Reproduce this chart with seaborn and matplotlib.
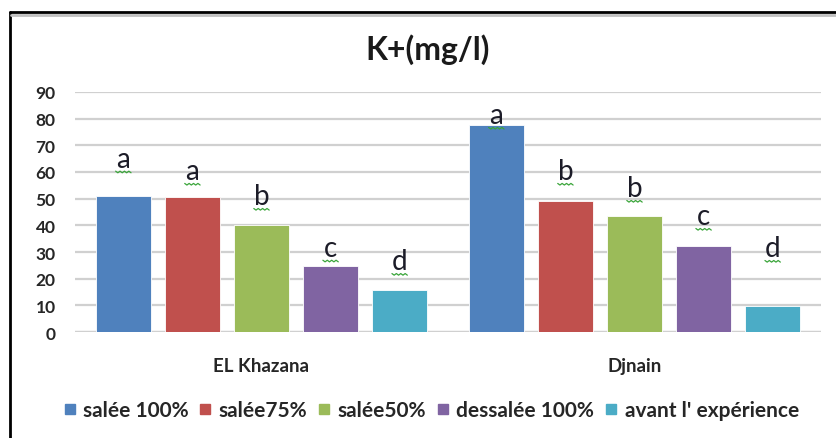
import matplotlib
matplotlib.use("Agg")
import matplotlib.pyplot as plt
from matplotlib.lines import Line2D
import numpy as np
import pandas as pd
import seaborn as sns

# Potassium concentration (mg/l) per site and irrigation water treatment
sites = ["EL Khazana", "Djnain"]
treatments = ["salée 100%", "salée75%", "salée50%", "dessalée 100%", "avant l' expérience"]
values_el_khazana = [51.0, 50.5, 40.2, 24.8, 15.8]
values_djnain = [77.5, 49.0, 43.6, 32.4, 9.7]

# Significance groups and the height at which each letter sits
letters_el_khazana = ["a", "a", "b", "c", "d"]
letters_djnain = ["a", "b", "b", "c", "d"]
letter_y_el_khazana = [62.0, 57.4, 48.0, 28.6, 23.6]
letter_y_djnain = [78.4, 57.4, 51.0, 40.5, 28.5]

colors = ["#4F81BD", "#C0504D", "#9BBB59", "#8064A2", "#4BACC6"]

rows = []
for site, vals in zip(sites, [values_el_khazana, values_djnain]):
    for t, v in zip(treatments, vals):
        rows.append({"site": site, "treatment": t, "K": v})
df = pd.DataFrame(rows)

sns.set_theme(style="white")
plt.rcParams["font.family"] = ["Lato", "DejaVu Sans"]

fig = plt.figure(figsize=(8.37, 4.39), dpi=100)
ax = fig.add_axes([75 / 837, 1 - 333 / 439, (821 - 75) / 837, (333 - 93) / 439])

sns.barplot(data=df, x="site", y="K", hue="treatment", order=sites,
            hue_order=treatments, palette=colors, width=0.926, gap=0.2,
            saturation=1, edgecolor="white", linewidth=0.6, legend=False,
            errorbar=None, ax=ax, zorder=3)

ax.set_ylim(0, 90)
ax.set_xlim(-0.5, 1.5)
ax.set_yticks(np.arange(0, 91, 10))
ax.yaxis.grid(True, color="#d0d0d0", linewidth=1.6, zorder=0)
ax.set_axisbelow(True)
for s in ax.spines.values():
    s.set_visible(False)
ax.axhline(0, color="#d0d0d0", linewidth=1.6, zorder=1)
ax.tick_params(axis="both", length=0)
ax.tick_params(axis="y", pad=14, labelsize=12.5, labelcolor="#262626")
ax.tick_params(axis="x", pad=18, labelsize=13.5, labelcolor="#262626")
for lab in ax.get_yticklabels() + ax.get_xticklabels():
    lab.set_fontweight("bold")
ax.set_xlabel("")
ax.set_ylabel("")

# Letters above the bars, each with a small wavy underline
letter_sets = [letters_el_khazana, letters_djnain]
letter_heights = [letter_y_el_khazana, letter_y_djnain]
zig_x = np.array([-7, -5, -3, -1, 1, 3, 5, 7]) * 1.1
zig_y = np.array([0, -1.6, 0, -1.6, 0, -1.6, 0, -1.6]) - 4.5
for hi, cont in enumerate(ax.containers):
    for ci, bar in enumerate(cont):
        cx = bar.get_x() + bar.get_width() / 2
        ly = letter_heights[ci][hi]
        ax.text(cx, ly, letter_sets[ci][hi], ha="center", va="baseline",
                fontsize=20, color="#1c1c28", zorder=5)
        base = ax.transData.transform((cx, ly))
        pts = np.column_stack([base[0] + zig_x, base[1] + zig_y])
        xy = ax.transData.inverted().transform(pts)
        ax.plot(xy[:, 0], xy[:, 1], color="#3aa53a", linewidth=0.9, zorder=5)

fig.text(428 / 837, 1 - 50 / 439, "K+(mg/l)", ha="center", va="center",
         fontsize=23, fontweight="bold", color="#1a1a1a")

handles = [Line2D([0], [0], marker="s", linestyle="", markersize=7.5,
                  markerfacecolor=c, markeredgecolor=c) for c in colors]
leg = fig.legend(handles, treatments, loc="center", ncol=5,
                 bbox_to_anchor=(430 / 837, 1 - 411 / 439), frameon=False,
                 handletextpad=0.25, columnspacing=0.4, handlelength=0.8,
                 prop={"size": 15, "weight": "bold"})
for t in leg.get_texts():
    t.set_color("#262626")

# Outer frame lines on the left and top
fig.add_artist(Line2D([10 / 837, 10 / 837], [0, 1 - 12.5 / 439],
                      transform=fig.transFigure, color="black", linewidth=2))
fig.add_artist(Line2D([10 / 837, 1], [1 - 13 / 439, 1 - 13 / 439],
                      transform=fig.transFigure, color="black", linewidth=2))
fig.add_artist(Line2D([11 / 837, 1], [1 - 15.5 / 439, 1 - 15.5 / 439],
                      transform=fig.transFigure, color="#c0c0c0", linewidth=2))

fig.savefig("out.png", dpi=100)
